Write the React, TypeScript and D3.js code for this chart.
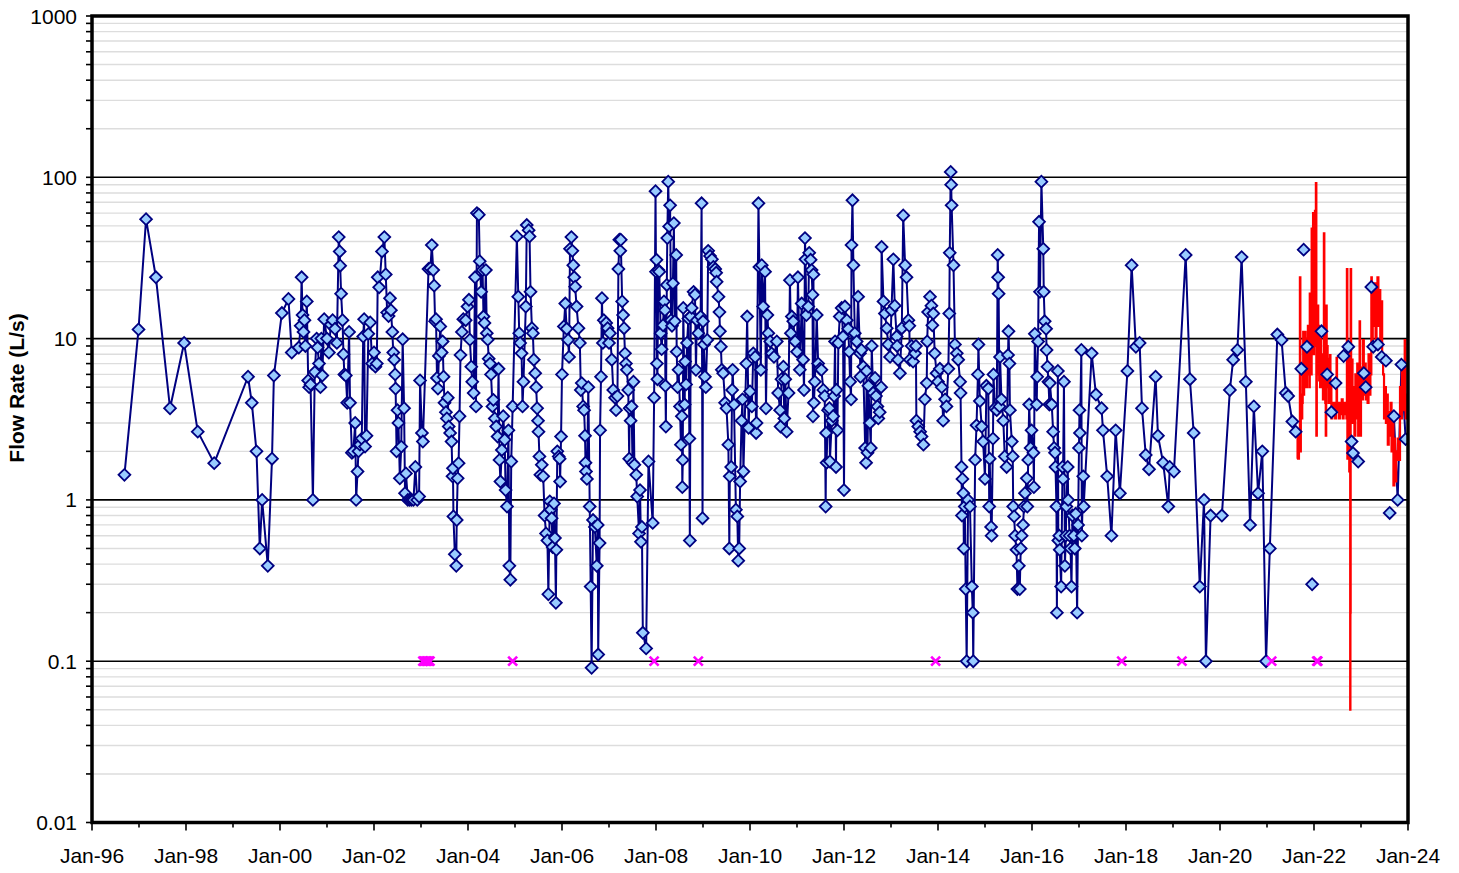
import React from "react";
import * as d3 from "d3";

// ---------- DATA ----------
// Y axis (log) tick values and labels
const yTickValues = [0.01, 0.1, 1, 10, 100, 1000];
const yTickLabels = ["0.01", "0.1", "1", "10", "100", "1000"];
// X axis labelled years and labels
const xLabelYears = [1996, 1998, 2000, 2002, 2004, 2006, 2008, 2010, 2012, 2014, 2016, 2018, 2020, 2022, 2024];
const xLabels = ["Jan-96", "Jan-98", "Jan-00", "Jan-02", "Jan-04", "Jan-06", "Jan-08", "Jan-10", "Jan-12", "Jan-14", "Jan-16", "Jan-18", "Jan-20", "Jan-22", "Jan-24"];
const xMinorYears = [1997, 1999, 2001, 2003, 2005, 2007, 2009, 2011, 2013, 2015, 2017, 2019, 2021, 2023];

// Blue series (manual measurements, decimal year, L/s) – connected by a line
const blueMain: [number, number][] = [
  [1996.69, 1.43], [1996.99, 11.4], [1997.15, 55], [1997.36, 24], [1997.66, 3.7], [1997.96, 9.4], [1998.25, 2.65], [1998.6, 1.69],
  [1999.32, 5.8], [1999.4, 4.0], [1999.5, 2.0], [1999.57, 0.5], [1999.62, 1.0], [1999.74, 0.39], [1999.83, 1.8], [1999.87, 5.9],
  [2000.04, 14.4], [2000.18, 17.6], [2000.25, 8.2], [2000.4, 8.8], [2000.44, 12], [2000.46, 24], [2000.48, 14], [2000.5, 11],
  [2000.52, 13], [2000.54, 9], [2000.57, 17], [2000.6, 5.5], [2000.62, 5.0], [2000.65, 5.2], [2000.7, 1.0], [2000.74, 6.2],
  [2000.78, 10], [2000.8, 8.8], [2000.83, 7], [2000.86, 5], [2000.88, 10], [2000.9, 5.9], [2000.94, 13.2],
  [2001.0, 10], [2001.04, 8.2], [2001.08, 12.2], [2001.12, 13], [2001.17, 11.5], [2001.21, 9.4], [2001.25, 42.6], [2001.27, 34.7],
  [2001.28, 28.3], [2001.3, 19], [2001.33, 13], [2001.35, 8], [2001.37, 6], [2001.4, 5.9], [2001.43, 4.0], [2001.47, 11],
  [2001.49, 4.0], [2001.53, 1.96], [2001.56, 2.0], [2001.6, 3.0], [2001.62, 1.0], [2001.65, 1.5], [2001.67, 2.0], [2001.7, 2.2],
  [2001.74, 2.4], [2001.77, 10.3], [2001.79, 13.2], [2001.81, 2.14], [2001.84, 2.5], [2001.88, 10.7], [2001.92, 12.6], [2001.96, 7.0],
  [2002.0, 8.2], [2002.03, 6.7], [2002.06, 7.0], [2002.08, 24], [2002.11, 20.8], [2002.17, 34.7], [2002.22, 42.6], [2002.25, 25],
  [2002.28, 14.5], [2002.31, 13.8], [2002.34, 17.8], [2002.36, 15], [2002.39, 11], [2002.41, 8.2], [2002.43, 7.4], [2002.45, 6.0],
  [2002.46, 4.9], [2002.48, 2.0], [2002.5, 3.6], [2002.52, 3.0], [2002.55, 1.36], [2002.58, 2.14], [2002.61, 9.9], [2002.64, 3.7],
  [2002.66, 1.1], [2002.68, 1.46], [2002.72, 1.0], [2002.76, 1.0], [2002.8, 1.0], [2002.84, 1.0], [2002.88, 1.6], [2002.92, 1.0],
  [2002.96, 1.05], [2002.98, 5.5], [2003.02, 2.6], [2003.04, 2.3],
  [2003.16, 27], [2003.2, 27.3], [2003.23, 38], [2003.26, 26.6], [2003.28, 21.3], [2003.3, 12.8], [2003.32, 13.2], [2003.34, 5.7],
  [2003.36, 4.9], [2003.38, 7.8], [2003.41, 11.9], [2003.44, 8.2], [2003.46, 9.6], [2003.48, 5.8], [2003.5, 4.0], [2003.53, 3.5],
  [2003.55, 3.2], [2003.57, 4.3], [2003.59, 2.85], [2003.62, 2.6], [2003.65, 2.3], [2003.67, 1.4], [2003.68, 1.57], [2003.69, 0.79],
  [2003.72, 0.46], [2003.75, 0.39], [2003.76, 0.75], [2003.78, 1.36], [2003.8, 1.69], [2003.82, 3.3], [2003.84, 7.9], [2003.87, 11],
  [2003.9, 13.2], [2003.95, 13], [2003.99, 15.8],
  [2004.02, 17.4], [2004.04, 9.85], [2004.07, 6.7], [2004.09, 5.4], [2004.12, 4.6], [2004.15, 24], [2004.17, 3.8], [2004.19, 60],
  [2004.23, 58.6], [2004.25, 30.2], [2004.28, 19.5], [2004.31, 26.6], [2004.33, 13.7], [2004.35, 12.5], [2004.38, 26.6], [2004.4, 10.8],
  [2004.42, 9.85], [2004.44, 7.5], [2004.47, 7.0], [2004.49, 6.0], [2004.52, 3.8], [2004.54, 4.17], [2004.57, 3.2], [2004.6, 2.85],
  [2004.63, 2.47], [2004.65, 6.5], [2004.67, 1.77], [2004.69, 1.3], [2004.72, 2.04], [2004.75, 3.3], [2004.78, 2.36], [2004.8, 1.15],
  [2004.83, 0.91], [2004.86, 2.7], [2004.88, 0.39], [2004.9, 0.32], [2004.92, 1.73], [2004.95, 3.8],
  [2005.04, 43], [2005.07, 18.2], [2005.09, 10.8], [2005.11, 9.4], [2005.14, 8.1], [2005.16, 3.8], [2005.18, 5.4], [2005.23, 15.8],
  [2005.25, 50.6], [2005.29, 47], [2005.31, 43], [2005.33, 19.5], [2005.36, 11.6], [2005.38, 10.8], [2005.4, 7.4], [2005.43, 6.1],
  [2005.45, 5.0], [2005.47, 3.7], [2005.49, 3.1], [2005.5, 2.65], [2005.52, 1.86], [2005.54, 1.43], [2005.57, 1.65], [2005.6, 1.4],
  [2005.63, 0.8], [2005.66, 0.62], [2005.69, 0.56], [2005.71, 0.26], [2005.74, 0.98], [2005.76, 0.87], [2005.78, 0.77], [2005.8, 0.51],
  [2005.83, 0.95], [2005.85, 0.58], [2005.87, 0.23], [2005.88, 0.49], [2005.9, 2.0], [2005.93, 1.86], [2005.95, 1.8], [2005.96, 1.3],
  [2005.98, 2.47], [2006.0, 6.0],
  [2006.04, 11.9], [2006.07, 16.5], [2006.1, 11.5], [2006.13, 9.8], [2006.15, 7.7], [2006.17, 36], [2006.2, 42.6], [2006.22, 35],
  [2006.24, 28.5], [2006.26, 24], [2006.28, 21], [2006.31, 15.8], [2006.35, 11.6], [2006.38, 9.4], [2006.4, 4.8], [2006.42, 5.3],
  [2006.45, 3.8], [2006.47, 3.6], [2006.49, 2.5], [2006.5, 1.7], [2006.51, 1.5], [2006.53, 1.35], [2006.56, 5.0], [2006.59, 0.91],
  [2006.61, 0.29], [2006.63, 0.091], [2006.66, 0.75], [2006.7, 0.68], [2006.74, 0.39], [2006.76, 0.7], [2006.77, 0.11], [2006.8, 0.54],
  [2006.81, 2.7], [2006.83, 5.8], [2006.85, 17.8], [2006.87, 9.4], [2006.89, 13], [2006.94, 12.5], [2006.97, 11.6],
  [2007.0, 9.4], [2007.02, 10.8], [2007.06, 7.4], [2007.09, 4.8], [2007.13, 4.3], [2007.15, 3.6], [2007.18, 4.4], [2007.2, 27],
  [2007.22, 41], [2007.24, 35], [2007.25, 41], [2007.28, 17], [2007.3, 14], [2007.32, 11.6], [2007.34, 8.1], [2007.36, 7.0],
  [2007.38, 6.4], [2007.41, 4.8], [2007.43, 1.8], [2007.44, 3.7], [2007.46, 3.1], [2007.48, 3.8], [2007.5, 1.7], [2007.52, 5.4],
  [2007.54, 1.65], [2007.58, 1.43], [2007.6, 1.05], [2007.64, 0.62], [2007.66, 1.15], [2007.68, 0.55], [2007.7, 0.68], [2007.72, 0.15],
  [2007.79, 0.12], [2007.84, 1.73], [2007.93, 0.72], [2007.96, 4.3],
  [2007.99, 82], [2008.0, 26], [2008.01, 30.8], [2008.02, 7.0], [2008.03, 5.6], [2008.05, 26.6], [2008.07, 26], [2008.1, 10.8],
  [2008.12, 8.6], [2008.15, 12.1], [2008.17, 17], [2008.19, 15], [2008.2, 5.1], [2008.21, 2.85], [2008.23, 21.5], [2008.24, 42],
  [2008.26, 94], [2008.28, 49.6], [2008.3, 67], [2008.32, 13], [2008.34, 12], [2008.36, 22], [2008.38, 52], [2008.4, 12.8],
  [2008.43, 33], [2008.44, 8.3], [2008.46, 5.0], [2008.48, 6.4], [2008.51, 3.8], [2008.53, 2.2], [2008.55, 3.3], [2008.56, 1.2],
  [2008.57, 1.77], [2008.58, 15.5], [2008.61, 3.9], [2008.62, 7.2], [2008.64, 5.2], [2008.66, 9.4], [2008.69, 13.3], [2008.71, 2.4],
  [2008.72, 0.56], [2008.74, 13.7], [2008.76, 15.5], [2008.8, 19.5], [2008.83, 18.7], [2008.85, 6.4], [2008.87, 13], [2008.9, 10.8],
  [2008.95, 13.7], [2008.97, 69], [2008.99, 0.77], [2009.0, 12.8],
  [2009.02, 9.2], [2009.04, 5.8], [2009.06, 5.0], [2009.09, 9.8], [2009.11, 35], [2009.15, 32.5], [2009.19, 31], [2009.22, 27.8],
  [2009.26, 27], [2009.28, 25.6], [2009.29, 22.5], [2009.33, 18.2], [2009.35, 14.6], [2009.36, 11.1], [2009.38, 8.9], [2009.4, 6.4],
  [2009.43, 6.1], [2009.47, 4.0], [2009.5, 3.7], [2009.54, 2.2], [2009.56, 0.5], [2009.57, 1.4], [2009.6, 1.6], [2009.62, 4.8],
  [2009.63, 6.4], [2009.66, 3.9], [2009.7, 0.87], [2009.73, 0.79], [2009.75, 0.42], [2009.77, 0.5], [2009.79, 1.3], [2009.82, 3.1],
  [2009.84, 4.2], [2009.86, 1.5], [2009.92, 7.0], [2009.94, 13.7], [2009.97, 2.8], [2010.0, 4.7],
  [2010.04, 3.8], [2010.07, 8.1], [2010.11, 7.7], [2010.13, 2.6], [2010.14, 3.0], [2010.18, 69], [2010.2, 27.8], [2010.23, 6.4],
  [2010.25, 28.5], [2010.28, 15.8], [2010.32, 26], [2010.34, 3.7], [2010.37, 14], [2010.39, 10.8], [2010.43, 9.6], [2010.46, 8.1],
  [2010.51, 7.7], [2010.57, 9.6], [2010.6, 4.6], [2010.64, 3.6], [2010.65, 2.85], [2010.67, 5.6], [2010.71, 6.7], [2010.73, 3.2],
  [2010.75, 5.6], [2010.78, 2.65], [2010.82, 4.6], [2010.85, 23], [2010.87, 10.8], [2010.89, 13.7], [2010.92, 12.8], [2010.96, 9.6],
  [2011.0, 8.3],
  [2011.02, 24], [2011.06, 6.4], [2011.1, 16.5], [2011.13, 7.4], [2011.15, 4.8], [2011.17, 42], [2011.18, 31], [2011.2, 14],
  [2011.24, 15.8], [2011.26, 34], [2011.29, 30.8], [2011.31, 26.6], [2011.33, 18.7], [2011.34, 3.3], [2011.35, 25], [2011.36, 4.0],
  [2011.38, 5.4], [2011.42, 14], [2011.45, 7.0], [2011.49, 6.5], [2011.52, 6.4], [2011.56, 4.8], [2011.59, 4.4], [2011.61, 0.91],
  [2011.62, 2.6], [2011.63, 1.7], [2011.66, 3.6], [2011.69, 3.7], [2011.7, 1.73], [2011.74, 3.1], [2011.77, 3.3], [2011.79, 4.4],
  [2011.81, 9.6], [2011.83, 1.6], [2011.84, 4.8], [2011.86, 2.7], [2011.88, 9.4], [2011.91, 13.7], [2011.95, 15.5], [2011.98, 10.3],
  [2012.0, 1.15],
  [2012.02, 15.8], [2012.06, 13], [2012.09, 11.5], [2012.11, 8.3], [2012.13, 5.4], [2012.15, 4.2], [2012.16, 38], [2012.18, 72],
  [2012.2, 28.5], [2012.23, 10.8], [2012.27, 9.6], [2012.3, 18.2], [2012.34, 8.1], [2012.35, 5.8], [2012.37, 8.5], [2012.41, 6.7],
  [2012.45, 2.1], [2012.47, 1.7], [2012.48, 6.3], [2012.5, 1.96], [2012.52, 5.1], [2012.55, 3.0], [2012.57, 2.1], [2012.59, 9.0],
  [2012.62, 4.6], [2012.66, 5.7], [2012.68, 4.4], [2012.71, 3.8], [2012.73, 3.2], [2012.76, 3.5], [2012.79, 5.0], [2012.8, 37],
  [2012.84, 17], [2012.87, 14.3], [2012.91, 11.6], [2012.94, 9.2], [2012.98, 7.7],
  [2013.01, 15], [2013.05, 31], [2013.08, 16], [2013.12, 10.3], [2013.13, 9.0], [2013.15, 7.4], [2013.19, 6.1], [2013.23, 11.6],
  [2013.26, 58], [2013.3, 28.5], [2013.33, 24], [2013.37, 13], [2013.39, 12], [2013.4, 7.4], [2013.44, 9.0], [2013.47, 7.2],
  [2013.51, 8.1], [2013.53, 9.0], [2013.54, 3.1], [2013.58, 2.85], [2013.62, 2.65], [2013.65, 2.47], [2013.69, 2.2], [2013.72, 4.2],
  [2013.76, 5.3], [2013.77, 9.6], [2013.79, 14.6], [2013.83, 18.2], [2013.86, 16], [2013.88, 12.1], [2013.9, 14.3], [2013.93, 8.1],
  [2013.97, 6.1], [2014.0, 5.4],
  [2014.04, 6.5], [2014.08, 5.0], [2014.11, 3.1], [2014.15, 4.2], [2014.18, 3.8], [2014.22, 6.5], [2014.24, 14.3], [2014.25, 34],
  [2014.27, 108], [2014.28, 90], [2014.29, 67], [2014.33, 28.5], [2014.36, 9.2], [2014.4, 8.1], [2014.43, 7.4], [2014.47, 5.4],
  [2014.48, 4.6], [2014.5, 1.6], [2014.51, 0.8], [2014.52, 1.35], [2014.54, 1.1], [2014.55, 0.5], [2014.57, 0.91], [2014.59, 0.28],
  [2014.61, 0.1], [2014.64, 1.0], [2014.68, 0.91], [2014.72, 0.29], [2014.74, 0.2], [2014.75, 0.1], [2014.79, 1.77], [2014.82, 2.9],
  [2014.85, 6.0], [2014.86, 9.2], [2014.89, 4.1], [2014.93, 2.85], [2014.96, 2.3], [2015.0, 1.35],
  [2015.03, 5.1], [2015.07, 4.9], [2015.09, 0.91], [2015.1, 1.8], [2015.13, 0.68], [2015.14, 0.6], [2015.17, 2.4], [2015.18, 6.0],
  [2015.21, 3.7], [2015.25, 3.6], [2015.27, 33], [2015.28, 24], [2015.29, 19], [2015.31, 3.8], [2015.32, 7.7], [2015.35, 4.2],
  [2015.39, 3.1], [2015.42, 1.86], [2015.46, 1.6], [2015.49, 7.9], [2015.5, 11.1], [2015.52, 7.0], [2015.53, 3.6], [2015.57, 2.3],
  [2015.59, 1.86], [2015.6, 0.91], [2015.62, 0.79], [2015.64, 0.6], [2015.67, 0.49], [2015.69, 0.28], [2015.72, 0.39], [2015.74, 0.28],
  [2015.76, 0.5], [2015.78, 0.6], [2015.81, 0.7], [2015.83, 0.91], [2015.85, 1.1], [2015.89, 1.36], [2015.9, 0.91], [2015.92, 1.77],
  [2015.94, 3.9], [2015.97, 2.1], [2015.99, 2.7],
  [2016.03, 1.96], [2016.04, 1.2], [2016.06, 10.7], [2016.1, 3.9], [2016.11, 5.8], [2016.13, 9.6], [2016.15, 53], [2016.17, 19.5],
  [2016.2, 94], [2016.24, 36], [2016.25, 19.5], [2016.27, 12.8], [2016.3, 11.5], [2016.31, 8.5], [2016.33, 6.7], [2016.35, 5.4],
  [2016.37, 3.9], [2016.38, 5.3], [2016.42, 3.9], [2016.45, 2.65], [2016.47, 2.1], [2016.49, 1.96], [2016.5, 1.6], [2016.52, 0.91],
  [2016.53, 0.2], [2016.55, 6.3], [2016.56, 0.56], [2016.58, 0.6], [2016.59, 0.49], [2016.62, 0.29], [2016.65, 1.6], [2016.66, 1.35],
  [2016.68, 5.4], [2016.7, 0.39], [2016.72, 0.6], [2016.73, 0.91], [2016.76, 1.6], [2016.77, 1.0], [2016.8, 0.6], [2016.82, 0.5],
  [2016.84, 0.29], [2016.86, 0.8], [2016.89, 0.6], [2016.91, 0.5], [2016.93, 0.82], [2016.96, 0.2], [2016.98, 0.7], [2017.0, 2.1],
  [2017.01, 3.6], [2017.02, 2.6], [2017.05, 8.5], [2017.06, 0.6], [2017.09, 1.4], [2017.1, 0.91],
  [2017.27, 8.1], [2017.36, 4.5], [2017.48, 3.7], [2017.51, 2.7], [2017.6, 1.4], [2017.69, 0.6], [2017.78, 2.7], [2017.87, 1.1],
  [2018.03, 6.3], [2018.12, 28.5], [2018.21, 8.9], [2018.29, 9.4], [2018.34, 3.7], [2018.42, 1.9], [2018.49, 1.55], [2018.63, 5.8],
  [2018.68, 2.5], [2018.79, 1.7], [2018.9, 0.91], [2018.93, 1.6], [2019.02, 1.5], [2019.27, 33], [2019.36, 5.6], [2019.44, 2.6],
  [2019.57, 0.29], [2019.66, 1.0], [2019.7, 0.1], [2019.8, 0.8], [2020.04, 0.8], [2020.21, 4.8], [2020.28, 7.4], [2020.37, 8.5],
  [2020.46, 32], [2020.55, 5.4], [2020.64, 0.7], [2020.72, 3.8], [2020.81, 1.1], [2020.9, 2.0], [2020.98, 0.1], [2021.06, 0.5],
  [2021.22, 10.6], [2021.31, 9.8], [2021.4, 4.6], [2021.45, 4.4], [2021.54, 3.06], [2021.61, 2.65],
];

// Blue samples shown as markers only (during the continuous-logger period)
const blueMarkersOnly: [number, number][] = [
  [2021.73, 6.5], [2021.78, 35.6], [2021.85, 8.9], [2021.96, 0.3], [2022.16, 11.1], [2022.28, 6.0], [2022.37, 3.5], [2022.46, 5.3],
  [2022.63, 7.8], [2022.73, 8.9], [2022.8, 2.3], [2022.83, 1.95], [2022.94, 1.73], [2023.06, 6.1], [2023.1, 5.0], [2023.22, 20.9],
  [2023.26, 8.9], [2023.36, 9.2], [2023.44, 7.7], [2023.53, 7.3], [2023.61, 0.83],
];

// Final blue samples, connected
const blueEnd: [number, number][] = [
  [2023.7, 3.3], [2023.78, 1.0], [2023.86, 6.9], [2023.95, 2.38],
];

// Red continuous logger series (decimal year, L/s)
const redSeries: [number, number][] = [
  [2021.64, 1.8], [2021.65, 2.5], [2021.66, 1.8], [2021.68, 2.4], [2021.70, 24], [2021.71, 2.0], [2021.72, 4.5], [2021.73, 3.2],
  [2021.75, 4.0], [2021.76, 6], [2021.77, 11], [2021.78, 4.5], [2021.79, 8], [2021.80, 5], [2021.81, 11], [2021.82, 6.5],
  [2021.83, 9], [2021.84, 5], [2021.85, 10], [2021.86, 6], [2021.87, 12], [2021.88, 7], [2021.89, 9], [2021.90, 5],
  [2021.91, 19], [2021.92, 7], [2021.93, 11], [2021.94, 6], [2021.95, 48], [2021.96, 9], [2021.97, 14], [2021.98, 60],
  [2021.99, 8], [2022.00, 16], [2022.01, 10], [2022.02, 62], [2022.03, 9], [2022.04, 92], [2022.05, 2.5], [2022.06, 10],
  [2022.07, 6], [2022.08, 16], [2022.09, 8], [2022.10, 12], [2022.11, 5.5], [2022.12, 9], [2022.13, 5], [2022.14, 10],
  [2022.15, 6], [2022.16, 8], [2022.17, 5], [2022.18, 7], [2022.19, 4.2], [2022.21, 45], [2022.22, 5], [2022.23, 8],
  [2022.24, 4], [2022.25, 2.5], [2022.26, 16], [2022.27, 5], [2022.28, 9], [2022.29, 5], [2022.30, 7.5], [2022.31, 4],
  [2022.32, 6], [2022.33, 4], [2022.34, 7.9], [2022.35, 4], [2022.36, 5], [2022.37, 3.2], [2022.39, 4], [2022.41, 3.4],
  [2022.43, 4], [2022.45, 3.2], [2022.47, 4], [2022.48, 7.6], [2022.49, 3.6], [2022.51, 4], [2022.53, 3.2], [2022.55, 4],
  [2022.57, 3.4], [2022.59, 4.2], [2022.61, 3.2], [2022.63, 4], [2022.65, 3.4], [2022.67, 4], [2022.69, 3.2], [2022.70, 27],
  [2022.71, 1.8], [2022.72, 4], [2022.73, 2.5], [2022.74, 9], [2022.75, 1.5], [2022.76, 4], [2022.77, 0.05], [2022.775, 0.2],
  [2022.78, 27], [2022.79, 3], [2022.80, 7.4], [2022.82, 3], [2022.84, 5], [2022.86, 2.5], [2022.88, 6], [2022.90, 3.2],
  [2022.92, 7], [2022.94, 2.5], [2022.96, 5], [2022.97, 12.8], [2022.98, 2.5], [2023.00, 6.6], [2023.02, 4.2], [2023.04, 9.8],
  [2023.06, 4.5], [2023.08, 7], [2023.10, 4.2], [2023.12, 6], [2023.14, 4], [2023.16, 8], [2023.18, 4.5], [2023.20, 6],
  [2023.22, 24], [2023.23, 9], [2023.25, 20], [2023.27, 12], [2023.29, 22], [2023.31, 10], [2023.33, 18], [2023.35, 24],
  [2023.37, 12], [2023.39, 20], [2023.41, 9], [2023.43, 17], [2023.45, 8], [2023.47, 6], [2023.49, 3.2], [2023.51, 5],
  [2023.53, 3], [2023.55, 4.5], [2023.57, 2.2], [2023.59, 3.5], [2023.61, 2.5], [2023.63, 4], [2023.65, 2], [2023.67, 3],
  [2023.69, 1.23], [2023.71, 2.4], [2023.73, 1.3], [2023.75, 2], [2023.77, 1.77], [2023.79, 2.4], [2023.81, 1.77], [2023.83, 5],
  [2023.85, 3.2], [2023.87, 7], [2023.89, 3.6], [2023.91, 4.2], [2023.93, 9.8], [2023.95, 3.2], [2023.97, 4.5], [2023.99, 3.6],
];

// Magenta "x" points: dry / no-flow observations plotted at 0.1 L/s
const magentaYears = [2003.04, 2003.07, 2003.1, 2003.13, 2003.16, 2003.19, 2004.95, 2007.96, 2008.9, 2013.95, 2017.91, 2019.19, 2021.1, 2022.06, 2022.08];
const magentaValues = [0.1, 0.1, 0.1, 0.1, 0.1, 0.1, 0.1, 0.1, 0.1, 0.1, 0.1, 0.1, 0.1, 0.1, 0.1];

const yAxisTitle = "Flow Rate (L/s)";

// ---------- CHART ----------
const W = 1459;
const H = 873;
const PL = 92, PR = 1408, PT = 16, PB = 822.5;
const FONT = "'Liberation Sans', Arial, Helvetica, sans-serif";

export default function App() {
  const x = d3.scaleLinear().domain([1996, 2024]).range([PL, PR]);
  const y = d3.scaleLog().domain([0.01, 1000]).range([PB, PT]);

  const minorVals: number[] = [];
  [0.01, 0.1, 1, 10, 100].forEach((d) => {
    for (let k = 2; k <= 9; k++) minorVals.push(d * k);
  });

  const line = d3
    .line<[number, number]>()
    .x((d) => x(d[0]))
    .y((d) => y(d[1]));
  const stepLine = d3
    .line<[number, number]>()
    .x((d) => x(d[0]))
    .y((d) => y(d[1]))
    .curve(d3.curveStepAfter);

  const diamond = d3.symbol().type(d3.symbolSquare).size(70)() as string;

  const allBlueMarkers = [...blueMain, ...blueMarkersOnly, ...blueEnd];

  return (
    <svg
      width={W}
      height={H}
      style={{ position: "absolute", left: 0, top: 0, background: "#fff" }}
      fontFamily={FONT}
    >
      <rect x={0} y={0} width={W} height={H} fill="#fff" />
      <defs>
        <clipPath id="plotclip">
          <rect x={PL} y={PT} width={PR - PL} height={PB - PT} />
        </clipPath>
      </defs>

      {/* minor gridlines */}
      {minorVals.map((v, i) => (
        <line key={"mg" + i} x1={PL} x2={PR} y1={y(v)} y2={y(v)} stroke="#DDDDDD" strokeWidth={1.4} />
      ))}
      {/* major gridlines */}
      {yTickValues.slice(1, -1).map((v, i) => (
        <line key={"Mg" + i} x1={PL} x2={PR} y1={y(v)} y2={y(v)} stroke="#000" strokeWidth={1.6} />
      ))}

      <g clipPath="url(#plotclip)">
        {/* blue connecting lines */}
        <path d={line(blueMain) || ""} fill="none" stroke="#000080" strokeWidth={2} strokeLinejoin="round" />
        <path d={line(blueEnd) || ""} fill="none" stroke="#000080" strokeWidth={2} strokeLinejoin="round" />
        {/* red logger series */}
        <path d={stepLine(redSeries) || ""} fill="none" stroke="#FF0000" strokeWidth={2.2} />
        {/* blue diamonds */}
        {allBlueMarkers.map((d, i) => (
          <path
            key={"bm" + i}
            d={diamond}
            transform={`translate(${x(d[0])},${y(d[1])}) rotate(45)`}
            fill="#99CCFF"
            stroke="#000080"
            strokeWidth={1.8}
          />
        ))}
        {/* magenta x markers */}
        {magentaYears.map((yr, i) => {
          const cx = x(yr);
          const cy = y(magentaValues[i]);
          return (
            <path
              key={"mx" + i}
              d={`M${cx - 4.5},${cy - 4.5}L${cx + 4.5},${cy + 4.5}M${cx - 4.5},${cy + 4.5}L${cx + 4.5},${cy - 4.5}`}
              stroke="#FF00FF"
              strokeWidth={2.6}
              fill="none"
            />
          );
        })}
      </g>

      {/* plot border */}
      <rect x={PL} y={PT} width={PR - PL} height={PB - PT} fill="none" stroke="#000" strokeWidth={3.5} />

      {/* y ticks */}
      {[...yTickValues, ...minorVals].map((v, i) => (
        <line key={"yt" + i} x1={PL - 6} x2={PL} y1={y(v)} y2={y(v)} stroke="#000" strokeWidth={1.6} />
      ))}
      {/* y labels */}
      {yTickValues.map((v, i) => (
        <text key={"yl" + i} x={77} y={y(v)} dy="0.36em" textAnchor="end" fontSize={21} fill="#000">
          {yTickLabels[i]}
        </text>
      ))}

      {/* x ticks */}
      {xLabelYears.map((yr, i) => (
        <line key={"xt" + i} x1={x(yr)} x2={x(yr)} y1={PB} y2={PB + 8} stroke="#000" strokeWidth={1.6} />
      ))}
      {xMinorYears.map((yr, i) => (
        <line key={"xm" + i} x1={x(yr)} x2={x(yr)} y1={PB} y2={PB + 5} stroke="#000" strokeWidth={1.6} />
      ))}
      {xLabelYears.map((yr, i) => (
        <text key={"xl" + i} x={x(yr)} y={863} textAnchor="middle" fontSize={21} fill="#000">
          {xLabels[i]}
        </text>
      ))}

      {/* y axis title */}
      <text
        transform={`translate(24,388) rotate(-90)`}
        textAnchor="middle"
        fontSize={21}
        fontWeight="bold"
        fill="#000"
      >
        {yAxisTitle}
      </text>
    </svg>
  );
}
